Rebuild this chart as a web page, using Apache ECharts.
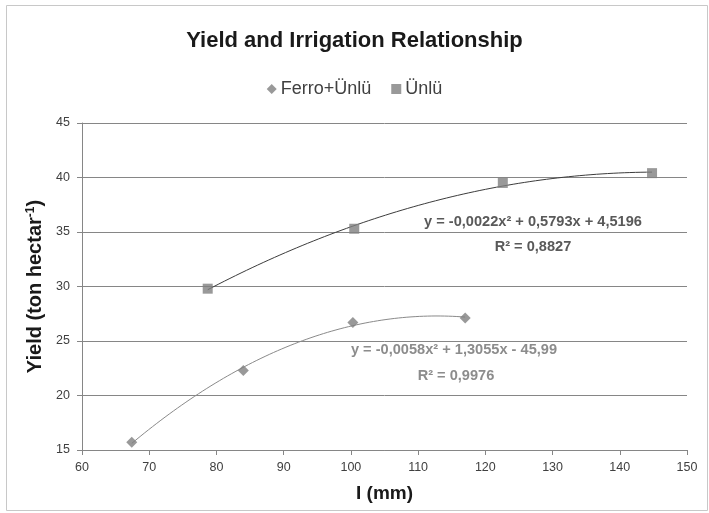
<!DOCTYPE html>
<html>
<head>
<meta charset="utf-8">
<script src="https://cdn.jsdelivr.net/npm/echarts@6/dist/echarts.min.js"></script>
<style>html,body{margin:0;padding:0;background:#fff}#c{width:709px;height:513px}</style>
</head>
<body>
<div id="c"></div>
<script>
// ---- data ----
const ferroX = [67.4, 84.0, 100.3, 117.0];
const ferroY = [15.7, 22.3, 26.7, 27.1];
const unluX = [78.7, 100.5, 122.6, 144.8];
const unluY = [29.8, 35.3, 39.5, 40.4];
const seriesNames = ['Ferro+Ünlü', 'Ünlü'];
const xTicks = [60, 70, 80, 90, 100, 110, 120, 130, 140, 150];
const yTicks = [15, 20, 25, 30, 35, 40, 45];
const unluEq = 'y = -0,0022x² + 0,5793x + 4,5196';
const unluR2 = 'R² = 0,8827';
const ferroEq = 'y = -0,0058x² + 1,3055x - 45,99';
const ferroR2 = 'R² = 0,9976';

// least-squares quadratic fit (polynomial trendline)
function quadFit(xs, ys) {
  let s = [0,0,0,0,0], t = [0,0,0];
  for (let i = 0; i < xs.length; i++) {
    let p = 1;
    for (let k = 0; k < 5; k++) { s[k] += p; if (k < 3) t[k] += p * ys[i]; p *= xs[i]; }
  }
  const A = [[s[0], s[1], s[2], t[0]], [s[1], s[2], s[3], t[1]], [s[2], s[3], s[4], t[2]]];
  for (let i = 0; i < 3; i++) {
    for (let j = i + 1; j < 3; j++) {
      const f = A[j][i] / A[i][i];
      for (let k = i; k < 4; k++) A[j][k] -= f * A[i][k];
    }
  }
  const c = [0,0,0];
  for (let i = 2; i >= 0; i--) {
    let v = A[i][3];
    for (let k = i + 1; k < 3; k++) v -= A[i][k] * c[k];
    c[i] = v / A[i][i];
  }
  return c;
}
function trend(xs, ys) {
  const c = quadFit(xs, ys);
  const x0 = Math.min(...xs), x1 = Math.max(...xs);
  const out = [];
  for (let i = 0; i <= 80; i++) {
    const x = x0 + (x1 - x0) * i / 80;
    out.push([x, c[0] + c[1] * x + c[2] * x * x]);
  }
  return out;
}
const zip = (a, b) => a.map((v, i) => [v, b[i]]);

const FONT = '"Liberation Sans", Arial, sans-serif';
const axisGray = '#868686';

const chart = echarts.init(document.getElementById('c'), null, {renderer: 'canvas'});
chart.setOption({
  animation: false,
  backgroundColor: '#ffffff',
  title: {
    text: 'Yield and Irrigation Relationship',
    left: 'center', top: 25,
    textStyle: {fontFamily: FONT, fontWeight: 'bold', fontSize: 22, color: '#1a1a1a'}
  },
  legend: {
    data: [
      {name: seriesNames[0], icon: 'diamond'},
      {name: seriesNames[1], icon: 'rect'}
    ],
    top: 75, left: 'center',
    itemWidth: 10, itemHeight: 10, itemGap: 20,
    textStyle: {fontFamily: FONT, fontSize: 18, color: '#404040', padding: [0, 0, 0, -1]}
  },
  grid: {left: 82, right: 22, top: 123, bottom: 63, containLabel: false},
  xAxis: {
    type: 'value', min: xTicks[0], max: xTicks[xTicks.length - 1], interval: 10,
    name: 'I (mm)', nameLocation: 'middle', nameGap: 34,
    nameTextStyle: {fontFamily: FONT, fontWeight: 'bold', fontSize: 19, color: '#1a1a1a'},
    axisLine: {show: true, onZero: false, lineStyle: {color: axisGray, width: 1}},
    axisTick: {show: true, length: 5, lineStyle: {color: axisGray}},
    axisLabel: {fontFamily: FONT, fontSize: 12.5, color: '#404040', margin: 11},
    splitLine: {show: false}
  },
  yAxis: {
    type: 'value', min: yTicks[0], max: yTicks[yTicks.length - 1], interval: 5,
    name: '{a|Yield (ton hectar}{s|-1}{a|)}', nameLocation: 'middle', nameGap: 28,
    nameTextStyle: {
      rich: {
        a: {fontFamily: FONT, fontWeight: 'bold', fontSize: 20, color: '#1a1a1a'},
        s: {fontFamily: FONT, fontWeight: 'bold', fontSize: 12, color: '#1a1a1a', verticalAlign: 'top', padding: [0, 0, 9, 0]}
      }
    },
    axisLine: {show: true, onZero: false, lineStyle: {color: axisGray, width: 1}},
    axisTick: {show: true, length: 5, lineStyle: {color: axisGray}},
    axisLabel: {fontFamily: FONT, fontSize: 12.5, color: '#404040', margin: 12},
    splitLine: {show: true, lineStyle: {color: axisGray, width: 1}}
  },
  series: [
    {
      name: seriesNames[0], type: 'scatter', symbol: 'diamond', symbolSize: 11,
      itemStyle: {color: '#808080'}, data: zip(ferroX, ferroY), z: 5
    },
    {
      name: seriesNames[1], type: 'scatter', symbol: 'rect', symbolSize: 10,
      itemStyle: {color: '#7f7f7f'}, data: zip(unluX, unluY), z: 5
    },
    {
      name: 'ferroTrend', type: 'line', showSymbol: false, silent: true, smooth: false,
      lineStyle: {color: '#8a8a8a', width: 1}, data: trend(ferroX, ferroY), z: 3
    },
    {
      name: 'unluTrend', type: 'line', showSymbol: false, silent: true, smooth: false,
      lineStyle: {color: '#3c3c3c', width: 1}, data: trend(unluX, unluY), z: 3
    }
  ],
  graphic: [
    {type: 'rect', shape: {x: 6.5, y: 5.5, width: 701, height: 505}, style: {fill: 'none', stroke: '#c8c8c8', lineWidth: 1}, silent: true, z: -1},
    {type: 'text', x: 533, y: 222, style: {text: unluEq, font: 'bold 14.6px ' + FONT, fill: '#595959', textAlign: 'center', textVerticalAlign: 'middle'}},
    {type: 'text', x: 533, y: 247, style: {text: unluR2, font: 'bold 14.6px ' + FONT, fill: '#595959', textAlign: 'center', textVerticalAlign: 'middle'}},
    {type: 'text', x: 454, y: 350, style: {text: ferroEq, font: 'bold 14.6px ' + FONT, fill: '#8c8c8c', textAlign: 'center', textVerticalAlign: 'middle'}},
    {type: 'text', x: 456, y: 376, style: {text: ferroR2, font: 'bold 14.6px ' + FONT, fill: '#8c8c8c', textAlign: 'center', textVerticalAlign: 'middle'}}
  ]
});
</script>
</body>
</html>
